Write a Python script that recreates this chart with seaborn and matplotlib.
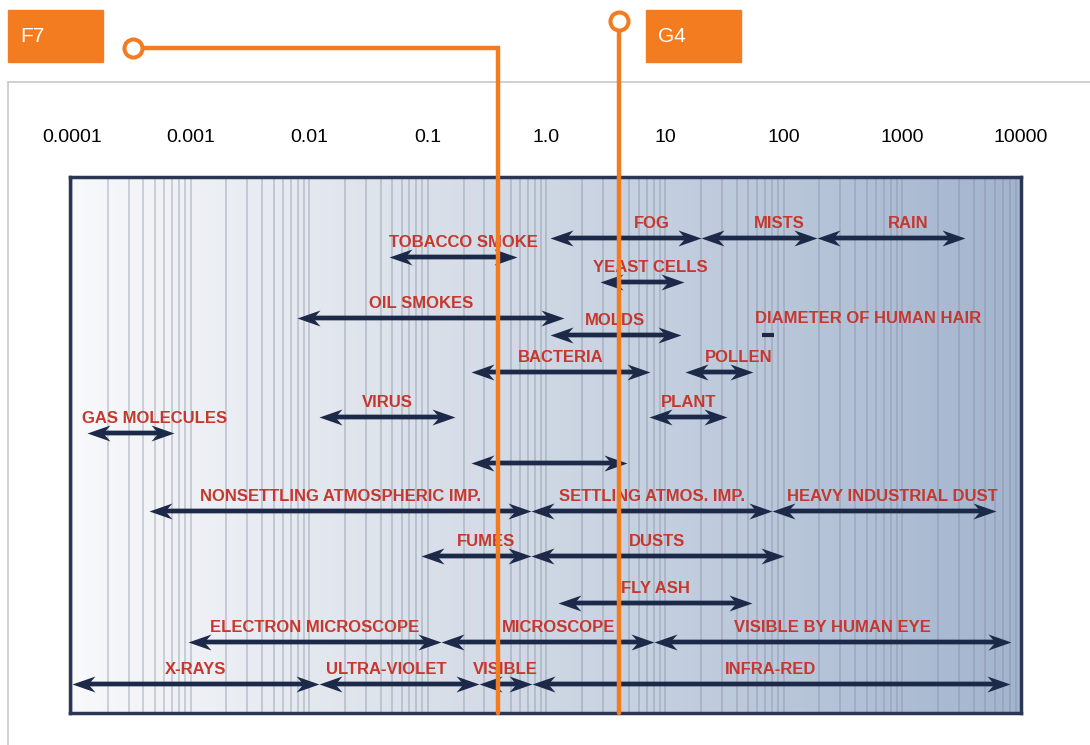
import matplotlib.pyplot as plt
import numpy as np
import seaborn as sns
from matplotlib.colors import LinearSegmentedColormap
from matplotlib.lines import Line2D
from matplotlib.patches import Rectangle
from matplotlib.path import Path
from matplotlib.ticker import LogLocator, NullFormatter

# particle size ranges in micrometres, one entry per arrow
names = ["FOG", "MISTS", "RAIN", "TOBACCO SMOKE", "YEAST CELLS", "OIL SMOKES",
         "MOLDS", "BACTERIA", "POLLEN", "PLANT", "VIRUS", "GAS MOLECULES", "",
         "NONSETTLING ATMOSPHERIC IMP.", "SETTLING ATMOS. IMP.",
         "HEAVY INDUSTRIAL DUST", "FUMES", "DUSTS", "FLY ASH",
         "ELECTRON MICROSCOPE", "MICROSCOPE", "VISIBLE BY HUMAN EYE",
         "X-RAYS", "ULTRA-VIOLET", "VISIBLE", "INFRA-RED"]
size_lo = [1.07, 20, 190, 0.047, 2.8, 0.0079,
           1.07, 0.23, 14.6, 7.3, 0.012, 0.000134, 0.23,
           0.00045, 0.74,
           80, 0.087, 0.74, 1.25,
           0.00095, 0.13, 8.0,
           0.0001, 0.012, 0.27, 0.75]
size_hi = [20, 190, 3400, 0.56, 14.3, 1.41,
           13.5, 7.5, 55, 33.5, 0.17, 0.00073, 4.75,
           0.74, 80,
           6200, 0.74, 100, 54,
           0.13, 8.0, 8300,
           0.012, 0.27, 0.75, 8000]
row = [3.05, 3.05, 3.05, 4.0, 5.25, 7.05,
       7.9, 9.75, 9.75, 12.0, 12.0, 12.8, 14.3,
       16.7, 16.7,
       16.7, 18.95, 18.95, 21.3,
       23.25, 23.25, 23.25,
       25.35, 25.35, 25.35, 25.35]

hair_label = "DIAMETER OF HUMAN HAIR"
hair_um = 74
hair_row = 7.9

tick_um = [1e-4, 1e-3, 1e-2, 1e-1, 1, 10, 100, 1000, 10000]
tick_labels = ["0.0001", "0.001", "0.01", "0.1", "1.0", "10", "100", "1000", "10000"]

filter_names = ["F7", "G4"]
filter_um = [0.39, 4.1]

# label nudges in points (label vs. arrow centre)
label_nudge = {"FOG": 19, "MISTS": 15, "RAIN": 12, "POLLEN": 14, "GAS MOLECULES": 17,
               "TOBACCO SMOKE": 8, "HEAVY INDUSTRIAL DUST": 6, "ULTRA-VIOLET": -9,
               "FUMES": 7, "OIL SMOKES": -7, "MICROSCOPE": 8, "YEAST CELLS": 6}

NAVY = "#1d2948"
LABEL_RED = "#c6372d"
ORANGE = "#f47c20"
W, H = 1090, 745

sns.set_theme(style="white")
plt.rcParams["font.family"] = ["Liberation Sans", "DejaVu Sans"]


def fx(px):
    return px / W


def fy(py):
    return 1 - py / H


fig = plt.figure(figsize=(W / 100, H / 100), dpi=100)
box = [fx(70), fy(713), (1021 - 70) / W, (713 - 177) / H]

# background gradient sits in its own axes behind the chart
bg = fig.add_axes(box, zorder=0)
grad_cmap = LinearSegmentedColormap.from_list(
    "bg", [(0.0, "#f8f9fb"), (0.3, "#e0e5ed"), (0.55, "#cad4e2"),
           (0.8, "#b5c3d8"), (1.0, "#a3b4ce")])
bg.imshow(np.linspace(0, 1, 256)[None, :], aspect="auto", cmap=grad_cmap,
          extent=[0, 1, 0, 1])
bg.axis("off")

ax = fig.add_axes(box, zorder=1)
ax.set_facecolor("none")
ax.set_xscale("log")
ax.set_xlim(10 ** (-4 - 2 / 119.1), 10 ** (-4 + 949 / 119.1))
ax.set_ylim(26.8, 0)
ax.set_yticks([])
ax.set_xticks(tick_um)
ax.set_xticklabels(tick_labels, fontsize=14, color="black")
ax.xaxis.set_minor_locator(LogLocator(base=10, subs=np.arange(2, 10), numticks=50))
ax.xaxis.set_minor_formatter(NullFormatter())
ax.xaxis.tick_top()
ax.tick_params(axis="x", which="both", length=0, pad=22)
ax.grid(True, which="both", axis="x", color="#7f8a9e", alpha=0.38, lw=1.3)
ax.set_axisbelow(True)
for sp in ax.spines.values():
    sp.set_color("#2b3654")
    sp.set_linewidth(2.5)

# arrow shafts
for lo, hi, r in zip(size_lo, size_hi, row):
    ax.annotate("", xy=(hi, r), xytext=(lo, r),
                arrowprops=dict(arrowstyle="-", lw=3.4, color=NAVY,
                                shrinkA=10, shrinkB=10), zorder=3)

# stealth arrow heads as custom markers (tip at the marker origin)
head_r = Path([(0, 0), (-23, 8), (-16, 0), (-23, -8), (0, 0)],
              [Path.MOVETO, Path.LINETO, Path.LINETO, Path.LINETO, Path.CLOSEPOLY])
head_l = Path(head_r.vertices * [-1, 1], head_r.codes)
head_s = (46 * 0.72) ** 2
sns.scatterplot(x=size_hi, y=row, marker=head_r, s=head_s, color=NAVY,
                linewidth=0, ax=ax, zorder=4, legend=False)
sns.scatterplot(x=size_lo, y=row, marker=head_l, s=head_s, color=NAVY,
                linewidth=0, ax=ax, zorder=4, legend=False)

# labels
for name, lo, hi, r in zip(names, size_lo, size_hi, row):
    if not name:
        continue
    mid = np.sqrt(lo * hi)
    ax.annotate(name, xy=(mid, r), xytext=(label_nudge.get(name, 0), 10.8),
                textcoords="offset points", ha="center", va="center",
                fontsize=12, fontweight="bold", color=LABEL_RED, zorder=5)

ax.plot([hair_um], [hair_row], marker="_", ms=9, mew=3, color=NAVY, zorder=4)
ax.annotate(hair_label, xy=(hair_um, hair_row), xytext=(-9.4, 12.2),
            textcoords="offset points", ha="left", va="center",
            fontsize=12, fontweight="bold", color=LABEL_RED, zorder=5)

# light grey page frame
fig.add_artist(Line2D([fx(8), fx(8)], [fy(82), 0], color="#c8c8c8", lw=1.2, zorder=0.5))
fig.add_artist(Line2D([fx(8), 1], [fy(82), fy(82)], color="#c8c8c8", lw=1.2, zorder=0.5))

# orange filter callouts
to_fig = fig.transFigure.inverted()
line_x = [to_fig.transform(ax.transData.transform((v, 1)))[0] for v in filter_um]
bottom = fy(713)

f7x, g4x = line_x
fig.add_artist(Line2D([fx(133), f7x, f7x], [fy(48), fy(48), bottom],
                      color=ORANGE, lw=3.2, zorder=6, solid_joinstyle="miter"))
fig.add_artist(Line2D([g4x, g4x], [fy(21), bottom], color=ORANGE, lw=3.2, zorder=6))
fig.add_artist(Line2D([fx(133)], [fy(48)], marker="o", ms=13, mew=2.9,
                      mec=ORANGE, mfc="white", zorder=7))
fig.add_artist(Line2D([g4x], [fy(21)], marker="o", ms=13, mew=2.9,
                      mec=ORANGE, mfc="white", zorder=7))

box_left = [fx(8), g4x + fx(27)]
for name, left in zip(filter_names, box_left):
    fig.add_artist(Rectangle((left, fy(62)), fx(95), 52 / H, color=ORANGE, zorder=6))
    fig.text(left + fx(12), fy(36), name, color="white", fontsize=15,
             ha="left", va="center", zorder=7)

fig.savefig("out.png", dpi=100)
